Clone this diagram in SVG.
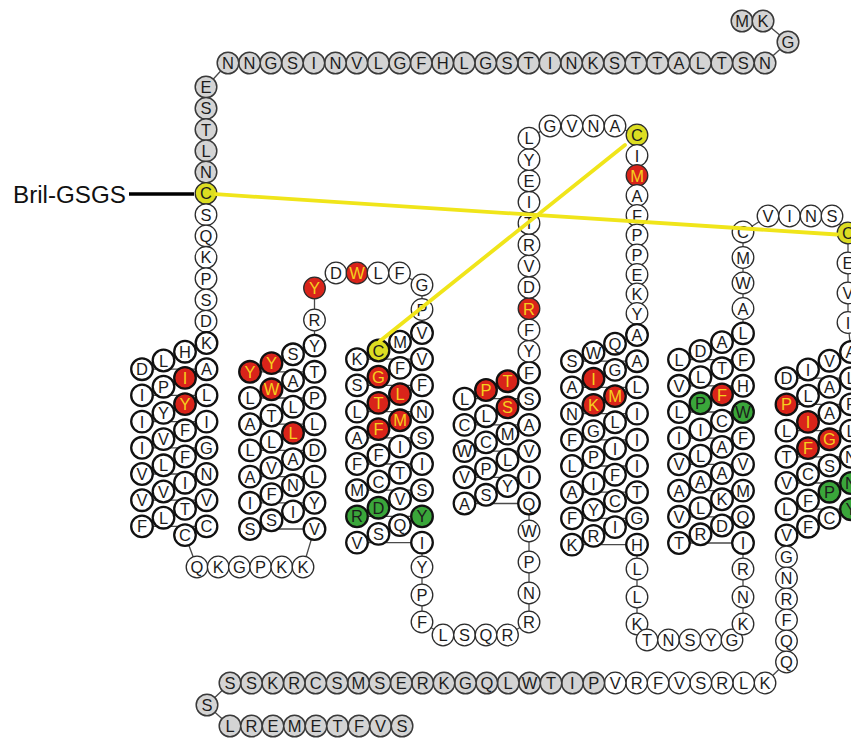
<svg xmlns="http://www.w3.org/2000/svg" width="851" height="740" viewBox="0 0 851 740">
<style>
.n circle{fill:#fff;stroke:#2b2b2b;stroke-width:1.3}
.n text{font-family:"Liberation Sans",Arial,Helvetica,sans-serif;font-size:16.5px;text-anchor:middle;fill:#1c1c1c}
.g circle{fill:#d4d4d4;stroke:#3a3a3a;stroke-width:1.5}
.h circle{stroke:#111;stroke-width:2.3}
.r circle{fill:#d9241a}
.r text{fill:#f5cf1e}
.e circle{fill:#3aa63a}
.y circle{fill:#dcdd22}
.bb{fill:none;stroke:#4a4a4a;stroke-width:1.3}
.ss{stroke:#f0e51a;stroke-width:3.8;stroke-linecap:round}
.lbl{font-family:"Liberation Sans",Arial,Helvetica,sans-serif;font-size:24.2px;fill:#111}
</style>
<rect width="851" height="740" fill="#fff"/>
<!-- backbone trace through all residues, N to C terminus -->
<g id="connectors">
<polyline class="bb" points="742,21 763,21 788,42 765,63 743.3,63 721.8,63 700.3,63 678.9,63 657.4,63 635.9,63 614.5,63 593,63 571.5,63 550,63 528.6,63 507.1,63 485.6,63 464.2,63 442.7,63 421.2,63 399.8,63 378.3,63 356.8,63 335.4,63 313.9,63 292.4,63 270.9,63 249.5,63 228,63 206,87 206,108.3 206,129.6 206,150.9 206,172.1 206,193.4 206,214.7 206,236 206,257.3 206,278.6 206,299.9 206,321.2 206.5,343 185,351.7 163.5,360.5 142,369.2 206.5,369.2 185,377.9 163.5,386.7 142,395.4 206.5,395.4 185,404.1 163.5,412.9 142,421.6 206.5,421.6 185,430.3 163.5,439.1 142,447.8 206.5,447.8 185,456.5 163.5,465.3 142,474 206.5,474 185,482.7 163.5,491.5 142,500.2 206.5,500.2 185,508.9 163.5,517.7 142,526.4 206.5,526.4 185,535.1 197,567 218.2,567 239.4,567 260.6,567 281.8,567 303,567 314.5,529 250,529 271.5,520.3 293,511.5 314.5,502.8 250,502.8 271.5,494.1 293,485.3 314.5,476.6 250,476.6 271.5,467.9 293,459.1 314.5,450.4 250,450.4 271.5,441.7 293,432.9 314.5,424.2 250,424.2 271.5,415.5 293,406.7 314.5,398 250,398 271.5,389.3 293,380.5 314.5,371.8 250,371.8 271.5,363.1 293,354.3 314.5,345.6 314.5,320 314.5,288 336,273 357,273 378,273 399.5,273 422,285 422,309.5 422,333 400,341.7 378.5,350.5 357,359.2 422,359.2 400,367.9 378.5,376.7 357,385.4 422,385.4 400,394.1 378.5,402.9 357,411.6 422,411.6 400,420.3 378.5,429.1 357,437.8 422,437.8 400,446.5 378.5,455.3 357,464 422,464 400,472.7 378.5,481.5 357,490.2 422,490.2 400,498.9 378.5,507.7 357,516.4 422,516.4 400,525.1 378.5,533.9 357,542.6 422,542.6 422,567 422,595 422,622 443,635 464.5,635 486,635 507.5,635 529,622 529,593 529,562 529,531 529,503.5 464.5,503.5 486,494.8 507.5,486 529,477.3 464.5,477.3 486,468.6 507.5,459.8 529,451.1 464.5,451.1 486,442.4 507.5,433.6 529,424.9 464.5,424.9 486,416.2 507.5,407.4 529,398.7 464.5,398.7 486,390 507.5,381.2 529,372.5 529,351.2 529,329.9 529,308.6 529,287.3 529,266 529,244.7 529,223.4 529,202.1 529,180.8 529,159.5 529,138.2 550,126 572,126 593.5,126 615,126 637,135 637,155.5 637,175.5 637,195.5 637,215.5 637,235 637,255 637,274.5 637,294 637,313.5 637,335 615,343.7 593.5,352.5 572,361.2 637,361.2 615,369.9 593.5,378.7 572,387.4 637,387.4 615,396.1 593.5,404.9 572,413.6 637,413.6 615,422.3 593.5,431.1 572,439.8 637,439.8 615,448.5 593.5,457.3 572,466 637,466 615,474.7 593.5,483.5 572,492.2 637,492.2 615,500.9 593.5,509.7 572,518.4 637,518.4 615,527.1 593.5,535.9 572,544.6 637,544.6 637,569 637,597 637,624 647,640 668.5,640 690,640 711,640 732,640 743,624 743,597 743,569 743,543 679,543 700.5,534.3 722,525.5 743,516.8 679,516.8 700.5,508.1 722,499.3 743,490.6 679,490.6 700.5,481.9 722,473.1 743,464.4 679,464.4 700.5,455.7 722,446.9 743,438.2 679,438.2 700.5,429.5 722,420.7 743,412 679,412 700.5,403.3 722,394.5 743,385.8 679,385.8 700.5,377.1 722,368.3 743,359.6 679,359.6 700.5,350.9 722,342.1 743,333.4 743,308.5 743,283 743,257.5 743,232 768,216 789.5,216 811,216 832,216 848,233 848,263 848,293 848,322.5 851,352 829.5,360.7 808,369.5 786.5,378.2 851,378.2 829.5,386.9 808,395.7 786.5,404.4 851,404.4 829.5,413.1 808,421.9 786.5,430.6 851,430.6 829.5,439.3 808,448.1 786.5,456.8 851,456.8 829.5,465.5 808,474.3 786.5,483 851,483 829.5,491.7 808,500.5 786.5,509.2 851,509.2 829.5,517.9 808,526.7 786.5,535.4 786.5,557 786.5,578 786.5,599 786.5,620 786.5,641 786.5,662 765,683 743.6,683 722.2,683 700.8,683 679.4,683 658,683 636.6,683 615.2,683 593.8,683 572.4,683 551,683 529.6,683 508.2,683 486.8,683 465.4,683 444,683 422.6,683 401.2,683 379.8,683 358.4,683 337,683 315.6,683 294.2,683 272.8,683 251.4,683 230,683 207,705 230,726 251.5,726 273,726 294.5,726 316,726 337.5,726 359,726 380.5,726 402,726"/>
<line x1="129" y1="194" x2="194" y2="194" stroke="#000" stroke-width="3.6"/>
</g>
<g id="residues">
<g id="r1" class="n g" transform="translate(742 21)"><circle r="10.8"/><text y="6">M</text></g>
<g id="r2" class="n g" transform="translate(763 21)"><circle r="10.8"/><text y="6">K</text></g>
<g id="r3" class="n g" transform="translate(788 42)"><circle r="10.8"/><text y="6">G</text></g>
<g id="r4" class="n g" transform="translate(765 63)"><circle r="10.8"/><text y="6">N</text></g>
<g id="r5" class="n g" transform="translate(743.3 63)"><circle r="10.8"/><text y="6">S</text></g>
<g id="r6" class="n g" transform="translate(721.8 63)"><circle r="10.8"/><text y="6">T</text></g>
<g id="r7" class="n g" transform="translate(700.3 63)"><circle r="10.8"/><text y="6">L</text></g>
<g id="r8" class="n g" transform="translate(678.9 63)"><circle r="10.8"/><text y="6">A</text></g>
<g id="r9" class="n g" transform="translate(657.4 63)"><circle r="10.8"/><text y="6">T</text></g>
<g id="r10" class="n g" transform="translate(635.9 63)"><circle r="10.8"/><text y="6">T</text></g>
<g id="r11" class="n g" transform="translate(614.5 63)"><circle r="10.8"/><text y="6">S</text></g>
<g id="r12" class="n g" transform="translate(593 63)"><circle r="10.8"/><text y="6">K</text></g>
<g id="r13" class="n g" transform="translate(571.5 63)"><circle r="10.8"/><text y="6">N</text></g>
<g id="r14" class="n g" transform="translate(550 63)"><circle r="10.8"/><text y="6">I</text></g>
<g id="r15" class="n g" transform="translate(528.6 63)"><circle r="10.8"/><text y="6">T</text></g>
<g id="r16" class="n g" transform="translate(507.1 63)"><circle r="10.8"/><text y="6">S</text></g>
<g id="r17" class="n g" transform="translate(485.6 63)"><circle r="10.8"/><text y="6">G</text></g>
<g id="r18" class="n g" transform="translate(464.2 63)"><circle r="10.8"/><text y="6">L</text></g>
<g id="r19" class="n g" transform="translate(442.7 63)"><circle r="10.8"/><text y="6">H</text></g>
<g id="r20" class="n g" transform="translate(421.2 63)"><circle r="10.8"/><text y="6">F</text></g>
<g id="r21" class="n g" transform="translate(399.8 63)"><circle r="10.8"/><text y="6">G</text></g>
<g id="r22" class="n g" transform="translate(378.3 63)"><circle r="10.8"/><text y="6">L</text></g>
<g id="r23" class="n g" transform="translate(356.8 63)"><circle r="10.8"/><text y="6">V</text></g>
<g id="r24" class="n g" transform="translate(335.4 63)"><circle r="10.8"/><text y="6">N</text></g>
<g id="r25" class="n g" transform="translate(313.9 63)"><circle r="10.8"/><text y="6">I</text></g>
<g id="r26" class="n g" transform="translate(292.4 63)"><circle r="10.8"/><text y="6">S</text></g>
<g id="r27" class="n g" transform="translate(270.9 63)"><circle r="10.8"/><text y="6">G</text></g>
<g id="r28" class="n g" transform="translate(249.5 63)"><circle r="10.8"/><text y="6">N</text></g>
<g id="r29" class="n g" transform="translate(228 63)"><circle r="10.8"/><text y="6">N</text></g>
<g id="r30" class="n g" transform="translate(206 87)"><circle r="10.8"/><text y="6">E</text></g>
<g id="r31" class="n g" transform="translate(206 108.3)"><circle r="10.8"/><text y="6">S</text></g>
<g id="r32" class="n g" transform="translate(206 129.6)"><circle r="10.8"/><text y="6">T</text></g>
<g id="r33" class="n g" transform="translate(206 150.9)"><circle r="10.8"/><text y="6">L</text></g>
<g id="r34" class="n g" transform="translate(206 172.1)"><circle r="10.8"/><text y="6">N</text></g>
<g id="r35" class="n y" transform="translate(206 193.4)"><circle r="10.8"/><text y="6">C</text></g>
<g id="r36" class="n" transform="translate(206 214.7)"><circle r="10.8"/><text y="6">S</text></g>
<g id="r37" class="n" transform="translate(206 236)"><circle r="10.8"/><text y="6">Q</text></g>
<g id="r38" class="n" transform="translate(206 257.3)"><circle r="10.8"/><text y="6">K</text></g>
<g id="r39" class="n" transform="translate(206 278.6)"><circle r="10.8"/><text y="6">P</text></g>
<g id="r40" class="n" transform="translate(206 299.9)"><circle r="10.8"/><text y="6">S</text></g>
<g id="r41" class="n" transform="translate(206 321.2)"><circle r="10.8"/><text y="6">D</text></g>
<g id="r42" class="n h" transform="translate(206.5 343)"><circle r="10.8"/><text y="6">K</text></g>
<g id="r43" class="n h" transform="translate(185 351.7)"><circle r="10.8"/><text y="6">H</text></g>
<g id="r44" class="n h" transform="translate(163.5 360.5)"><circle r="10.8"/><text y="6">L</text></g>
<g id="r45" class="n h" transform="translate(142 369.2)"><circle r="10.8"/><text y="6">D</text></g>
<g id="r46" class="n h" transform="translate(206.5 369.2)"><circle r="10.8"/><text y="6">A</text></g>
<g id="r47" class="n h r" transform="translate(185 377.9)"><circle r="10.8"/><text y="6">I</text></g>
<g id="r48" class="n h" transform="translate(163.5 386.7)"><circle r="10.8"/><text y="6">P</text></g>
<g id="r49" class="n h" transform="translate(142 395.4)"><circle r="10.8"/><text y="6">I</text></g>
<g id="r50" class="n h" transform="translate(206.5 395.4)"><circle r="10.8"/><text y="6">L</text></g>
<g id="r51" class="n h r" transform="translate(185 404.1)"><circle r="10.8"/><text y="6">Y</text></g>
<g id="r52" class="n h" transform="translate(163.5 412.9)"><circle r="10.8"/><text y="6">Y</text></g>
<g id="r53" class="n h" transform="translate(142 421.6)"><circle r="10.8"/><text y="6">I</text></g>
<g id="r54" class="n h" transform="translate(206.5 421.6)"><circle r="10.8"/><text y="6">I</text></g>
<g id="r55" class="n h" transform="translate(185 430.3)"><circle r="10.8"/><text y="6">F</text></g>
<g id="r56" class="n h" transform="translate(163.5 439.1)"><circle r="10.8"/><text y="6">V</text></g>
<g id="r57" class="n h" transform="translate(142 447.8)"><circle r="10.8"/><text y="6">I</text></g>
<g id="r58" class="n h" transform="translate(206.5 447.8)"><circle r="10.8"/><text y="6">G</text></g>
<g id="r59" class="n h" transform="translate(185 456.5)"><circle r="10.8"/><text y="6">F</text></g>
<g id="r60" class="n h" transform="translate(163.5 465.3)"><circle r="10.8"/><text y="6">L</text></g>
<g id="r61" class="n h" transform="translate(142 474)"><circle r="10.8"/><text y="6">V</text></g>
<g id="r62" class="n h" transform="translate(206.5 474)"><circle r="10.8"/><text y="6">N</text></g>
<g id="r63" class="n h" transform="translate(185 482.7)"><circle r="10.8"/><text y="6">I</text></g>
<g id="r64" class="n h" transform="translate(163.5 491.5)"><circle r="10.8"/><text y="6">V</text></g>
<g id="r65" class="n h" transform="translate(142 500.2)"><circle r="10.8"/><text y="6">V</text></g>
<g id="r66" class="n h" transform="translate(206.5 500.2)"><circle r="10.8"/><text y="6">V</text></g>
<g id="r67" class="n h" transform="translate(185 508.9)"><circle r="10.8"/><text y="6">T</text></g>
<g id="r68" class="n h" transform="translate(163.5 517.7)"><circle r="10.8"/><text y="6">L</text></g>
<g id="r69" class="n h" transform="translate(142 526.4)"><circle r="10.8"/><text y="6">F</text></g>
<g id="r70" class="n h" transform="translate(206.5 526.4)"><circle r="10.8"/><text y="6">C</text></g>
<g id="r71" class="n h" transform="translate(185 535.1)"><circle r="10.8"/><text y="6">C</text></g>
<g id="r72" class="n" transform="translate(197 567)"><circle r="10.8"/><text y="6">Q</text></g>
<g id="r73" class="n" transform="translate(218.2 567)"><circle r="10.8"/><text y="6">K</text></g>
<g id="r74" class="n" transform="translate(239.4 567)"><circle r="10.8"/><text y="6">G</text></g>
<g id="r75" class="n" transform="translate(260.6 567)"><circle r="10.8"/><text y="6">P</text></g>
<g id="r76" class="n" transform="translate(281.8 567)"><circle r="10.8"/><text y="6">K</text></g>
<g id="r77" class="n" transform="translate(303 567)"><circle r="10.8"/><text y="6">K</text></g>
<g id="r78" class="n h" transform="translate(314.5 529)"><circle r="10.8"/><text y="6">V</text></g>
<g id="r79" class="n h" transform="translate(250 529)"><circle r="10.8"/><text y="6">S</text></g>
<g id="r80" class="n h" transform="translate(271.5 520.3)"><circle r="10.8"/><text y="6">S</text></g>
<g id="r81" class="n h" transform="translate(293 511.5)"><circle r="10.8"/><text y="6">I</text></g>
<g id="r82" class="n h" transform="translate(314.5 502.8)"><circle r="10.8"/><text y="6">Y</text></g>
<g id="r83" class="n h" transform="translate(250 502.8)"><circle r="10.8"/><text y="6">I</text></g>
<g id="r84" class="n h" transform="translate(271.5 494.1)"><circle r="10.8"/><text y="6">F</text></g>
<g id="r85" class="n h" transform="translate(293 485.3)"><circle r="10.8"/><text y="6">N</text></g>
<g id="r86" class="n h" transform="translate(314.5 476.6)"><circle r="10.8"/><text y="6">L</text></g>
<g id="r87" class="n h" transform="translate(250 476.6)"><circle r="10.8"/><text y="6">A</text></g>
<g id="r88" class="n h" transform="translate(271.5 467.9)"><circle r="10.8"/><text y="6">V</text></g>
<g id="r89" class="n h" transform="translate(293 459.1)"><circle r="10.8"/><text y="6">A</text></g>
<g id="r90" class="n h" transform="translate(314.5 450.4)"><circle r="10.8"/><text y="6">D</text></g>
<g id="r91" class="n h" transform="translate(250 450.4)"><circle r="10.8"/><text y="6">L</text></g>
<g id="r92" class="n h" transform="translate(271.5 441.7)"><circle r="10.8"/><text y="6">L</text></g>
<g id="r93" class="n h r" transform="translate(293 432.9)"><circle r="10.8"/><text y="6">L</text></g>
<g id="r94" class="n h" transform="translate(314.5 424.2)"><circle r="10.8"/><text y="6">L</text></g>
<g id="r95" class="n h" transform="translate(250 424.2)"><circle r="10.8"/><text y="6">A</text></g>
<g id="r96" class="n h" transform="translate(271.5 415.5)"><circle r="10.8"/><text y="6">T</text></g>
<g id="r97" class="n h" transform="translate(293 406.7)"><circle r="10.8"/><text y="6">L</text></g>
<g id="r98" class="n h" transform="translate(314.5 398)"><circle r="10.8"/><text y="6">P</text></g>
<g id="r99" class="n h" transform="translate(250 398)"><circle r="10.8"/><text y="6">L</text></g>
<g id="r100" class="n h r" transform="translate(271.5 389.3)"><circle r="10.8"/><text y="6">W</text></g>
<g id="r101" class="n h" transform="translate(293 380.5)"><circle r="10.8"/><text y="6">A</text></g>
<g id="r102" class="n h" transform="translate(314.5 371.8)"><circle r="10.8"/><text y="6">T</text></g>
<g id="r103" class="n h r" transform="translate(250 371.8)"><circle r="10.8"/><text y="6">Y</text></g>
<g id="r104" class="n h r" transform="translate(271.5 363.1)"><circle r="10.8"/><text y="6">Y</text></g>
<g id="r105" class="n h" transform="translate(293 354.3)"><circle r="10.8"/><text y="6">S</text></g>
<g id="r106" class="n h" transform="translate(314.5 345.6)"><circle r="10.8"/><text y="6">Y</text></g>
<g id="r107" class="n" transform="translate(314.5 320)"><circle r="10.8"/><text y="6">R</text></g>
<g id="r108" class="n r" transform="translate(314.5 288)"><circle r="10.8"/><text y="6">Y</text></g>
<g id="r109" class="n" transform="translate(336 273)"><circle r="10.8"/><text y="6">D</text></g>
<g id="r110" class="n r" transform="translate(357 273)"><circle r="10.8"/><text y="6">W</text></g>
<g id="r111" class="n" transform="translate(378 273)"><circle r="10.8"/><text y="6">L</text></g>
<g id="r112" class="n" transform="translate(399.5 273)"><circle r="10.8"/><text y="6">F</text></g>
<g id="r113" class="n" transform="translate(422 285)"><circle r="10.8"/><text y="6">G</text></g>
<g id="r114" class="n" transform="translate(422 309.5)"><circle r="10.8"/><text y="6">P</text></g>
<g id="r115" class="n h" transform="translate(422 333)"><circle r="10.8"/><text y="6">V</text></g>
<g id="r116" class="n h" transform="translate(400 341.7)"><circle r="10.8"/><text y="6">M</text></g>
<g id="r117" class="n h y" transform="translate(378.5 350.5)"><circle r="10.8"/><text y="6">C</text></g>
<g id="r118" class="n h" transform="translate(357 359.2)"><circle r="10.8"/><text y="6">K</text></g>
<g id="r119" class="n h" transform="translate(422 359.2)"><circle r="10.8"/><text y="6">V</text></g>
<g id="r120" class="n h" transform="translate(400 367.9)"><circle r="10.8"/><text y="6">F</text></g>
<g id="r121" class="n h r" transform="translate(378.5 376.7)"><circle r="10.8"/><text y="6">G</text></g>
<g id="r122" class="n h" transform="translate(357 385.4)"><circle r="10.8"/><text y="6">S</text></g>
<g id="r123" class="n h" transform="translate(422 385.4)"><circle r="10.8"/><text y="6">F</text></g>
<g id="r124" class="n h r" transform="translate(400 394.1)"><circle r="10.8"/><text y="6">L</text></g>
<g id="r125" class="n h r" transform="translate(378.5 402.9)"><circle r="10.8"/><text y="6">T</text></g>
<g id="r126" class="n h" transform="translate(357 411.6)"><circle r="10.8"/><text y="6">L</text></g>
<g id="r127" class="n h" transform="translate(422 411.6)"><circle r="10.8"/><text y="6">N</text></g>
<g id="r128" class="n h r" transform="translate(400 420.3)"><circle r="10.8"/><text y="6">M</text></g>
<g id="r129" class="n h r" transform="translate(378.5 429.1)"><circle r="10.8"/><text y="6">F</text></g>
<g id="r130" class="n h" transform="translate(357 437.8)"><circle r="10.8"/><text y="6">A</text></g>
<g id="r131" class="n h" transform="translate(422 437.8)"><circle r="10.8"/><text y="6">S</text></g>
<g id="r132" class="n h" transform="translate(400 446.5)"><circle r="10.8"/><text y="6">I</text></g>
<g id="r133" class="n h" transform="translate(378.5 455.3)"><circle r="10.8"/><text y="6">F</text></g>
<g id="r134" class="n h" transform="translate(357 464)"><circle r="10.8"/><text y="6">F</text></g>
<g id="r135" class="n h" transform="translate(422 464)"><circle r="10.8"/><text y="6">I</text></g>
<g id="r136" class="n h" transform="translate(400 472.7)"><circle r="10.8"/><text y="6">T</text></g>
<g id="r137" class="n h" transform="translate(378.5 481.5)"><circle r="10.8"/><text y="6">C</text></g>
<g id="r138" class="n h" transform="translate(357 490.2)"><circle r="10.8"/><text y="6">M</text></g>
<g id="r139" class="n h" transform="translate(422 490.2)"><circle r="10.8"/><text y="6">S</text></g>
<g id="r140" class="n h" transform="translate(400 498.9)"><circle r="10.8"/><text y="6">V</text></g>
<g id="r141" class="n h e" transform="translate(378.5 507.7)"><circle r="10.8"/><text y="6">D</text></g>
<g id="r142" class="n h e" transform="translate(357 516.4)"><circle r="10.8"/><text y="6">R</text></g>
<g id="r143" class="n h e" transform="translate(422 516.4)"><circle r="10.8"/><text y="6">Y</text></g>
<g id="r144" class="n h" transform="translate(400 525.1)"><circle r="10.8"/><text y="6">Q</text></g>
<g id="r145" class="n h" transform="translate(378.5 533.9)"><circle r="10.8"/><text y="6">S</text></g>
<g id="r146" class="n h" transform="translate(357 542.6)"><circle r="10.8"/><text y="6">V</text></g>
<g id="r147" class="n h" transform="translate(422 542.6)"><circle r="10.8"/><text y="6">I</text></g>
<g id="r148" class="n" transform="translate(422 567)"><circle r="10.8"/><text y="6">Y</text></g>
<g id="r149" class="n" transform="translate(422 595)"><circle r="10.8"/><text y="6">P</text></g>
<g id="r150" class="n" transform="translate(422 622)"><circle r="10.8"/><text y="6">F</text></g>
<g id="r151" class="n" transform="translate(443 635)"><circle r="10.8"/><text y="6">L</text></g>
<g id="r152" class="n" transform="translate(464.5 635)"><circle r="10.8"/><text y="6">S</text></g>
<g id="r153" class="n" transform="translate(486 635)"><circle r="10.8"/><text y="6">Q</text></g>
<g id="r154" class="n" transform="translate(507.5 635)"><circle r="10.8"/><text y="6">R</text></g>
<g id="r155" class="n" transform="translate(529 622)"><circle r="10.8"/><text y="6">R</text></g>
<g id="r156" class="n" transform="translate(529 593)"><circle r="10.8"/><text y="6">N</text></g>
<g id="r157" class="n" transform="translate(529 562)"><circle r="10.8"/><text y="6">P</text></g>
<g id="r158" class="n" transform="translate(529 531)"><circle r="10.8"/><text y="6">W</text></g>
<g id="r159" class="n h" transform="translate(529 503.5)"><circle r="10.8"/><text y="6">Q</text></g>
<g id="r160" class="n h" transform="translate(464.5 503.5)"><circle r="10.8"/><text y="6">A</text></g>
<g id="r161" class="n h" transform="translate(486 494.8)"><circle r="10.8"/><text y="6">S</text></g>
<g id="r162" class="n h" transform="translate(507.5 486)"><circle r="10.8"/><text y="6">Y</text></g>
<g id="r163" class="n h" transform="translate(529 477.3)"><circle r="10.8"/><text y="6">I</text></g>
<g id="r164" class="n h" transform="translate(464.5 477.3)"><circle r="10.8"/><text y="6">V</text></g>
<g id="r165" class="n h" transform="translate(486 468.6)"><circle r="10.8"/><text y="6">P</text></g>
<g id="r166" class="n h" transform="translate(507.5 459.8)"><circle r="10.8"/><text y="6">L</text></g>
<g id="r167" class="n h" transform="translate(529 451.1)"><circle r="10.8"/><text y="6">V</text></g>
<g id="r168" class="n h" transform="translate(464.5 451.1)"><circle r="10.8"/><text y="6">W</text></g>
<g id="r169" class="n h" transform="translate(486 442.4)"><circle r="10.8"/><text y="6">C</text></g>
<g id="r170" class="n h" transform="translate(507.5 433.6)"><circle r="10.8"/><text y="6">M</text></g>
<g id="r171" class="n h" transform="translate(529 424.9)"><circle r="10.8"/><text y="6">A</text></g>
<g id="r172" class="n h" transform="translate(464.5 424.9)"><circle r="10.8"/><text y="6">C</text></g>
<g id="r173" class="n h" transform="translate(486 416.2)"><circle r="10.8"/><text y="6">L</text></g>
<g id="r174" class="n h r" transform="translate(507.5 407.4)"><circle r="10.8"/><text y="6">S</text></g>
<g id="r175" class="n h" transform="translate(529 398.7)"><circle r="10.8"/><text y="6">S</text></g>
<g id="r176" class="n h" transform="translate(464.5 398.7)"><circle r="10.8"/><text y="6">L</text></g>
<g id="r177" class="n h r" transform="translate(486 390)"><circle r="10.8"/><text y="6">P</text></g>
<g id="r178" class="n h r" transform="translate(507.5 381.2)"><circle r="10.8"/><text y="6">T</text></g>
<g id="r179" class="n h" transform="translate(529 372.5)"><circle r="10.8"/><text y="6">F</text></g>
<g id="r180" class="n" transform="translate(529 351.2)"><circle r="10.8"/><text y="6">Y</text></g>
<g id="r181" class="n" transform="translate(529 329.9)"><circle r="10.8"/><text y="6">F</text></g>
<g id="r182" class="n r" transform="translate(529 308.6)"><circle r="10.8"/><text y="6">R</text></g>
<g id="r183" class="n" transform="translate(529 287.3)"><circle r="10.8"/><text y="6">D</text></g>
<g id="r184" class="n" transform="translate(529 266)"><circle r="10.8"/><text y="6">V</text></g>
<g id="r185" class="n" transform="translate(529 244.7)"><circle r="10.8"/><text y="6">R</text></g>
<g id="r186" class="n" transform="translate(529 223.4)"><circle r="10.8"/><text y="6">T</text></g>
<g id="r187" class="n" transform="translate(529 202.1)"><circle r="10.8"/><text y="6">I</text></g>
<g id="r188" class="n" transform="translate(529 180.8)"><circle r="10.8"/><text y="6">E</text></g>
<g id="r189" class="n" transform="translate(529 159.5)"><circle r="10.8"/><text y="6">Y</text></g>
<g id="r190" class="n" transform="translate(529 138.2)"><circle r="10.8"/><text y="6">L</text></g>
<g id="r191" class="n" transform="translate(550 126)"><circle r="10.8"/><text y="6">G</text></g>
<g id="r192" class="n" transform="translate(572 126)"><circle r="10.8"/><text y="6">V</text></g>
<g id="r193" class="n" transform="translate(593.5 126)"><circle r="10.8"/><text y="6">N</text></g>
<g id="r194" class="n" transform="translate(615 126)"><circle r="10.8"/><text y="6">A</text></g>
<g id="r195" class="n y" transform="translate(637 135)"><circle r="10.8"/><text y="6">C</text></g>
<g id="r196" class="n" transform="translate(637 155.5)"><circle r="10.8"/><text y="6">I</text></g>
<g id="r197" class="n r" transform="translate(637 175.5)"><circle r="10.8"/><text y="6">M</text></g>
<g id="r198" class="n" transform="translate(637 195.5)"><circle r="10.8"/><text y="6">A</text></g>
<g id="r199" class="n" transform="translate(637 215.5)"><circle r="10.8"/><text y="6">F</text></g>
<g id="r200" class="n" transform="translate(637 235)"><circle r="10.8"/><text y="6">P</text></g>
<g id="r201" class="n" transform="translate(637 255)"><circle r="10.8"/><text y="6">P</text></g>
<g id="r202" class="n" transform="translate(637 274.5)"><circle r="10.8"/><text y="6">E</text></g>
<g id="r203" class="n" transform="translate(637 294)"><circle r="10.8"/><text y="6">K</text></g>
<g id="r204" class="n" transform="translate(637 313.5)"><circle r="10.8"/><text y="6">Y</text></g>
<g id="r205" class="n h" transform="translate(637 335)"><circle r="10.8"/><text y="6">A</text></g>
<g id="r206" class="n h" transform="translate(615 343.7)"><circle r="10.8"/><text y="6">Q</text></g>
<g id="r207" class="n h" transform="translate(593.5 352.5)"><circle r="10.8"/><text y="6">W</text></g>
<g id="r208" class="n h" transform="translate(572 361.2)"><circle r="10.8"/><text y="6">S</text></g>
<g id="r209" class="n h" transform="translate(637 361.2)"><circle r="10.8"/><text y="6">A</text></g>
<g id="r210" class="n h" transform="translate(615 369.9)"><circle r="10.8"/><text y="6">G</text></g>
<g id="r211" class="n h r" transform="translate(593.5 378.7)"><circle r="10.8"/><text y="6">I</text></g>
<g id="r212" class="n h" transform="translate(572 387.4)"><circle r="10.8"/><text y="6">A</text></g>
<g id="r213" class="n h" transform="translate(637 387.4)"><circle r="10.8"/><text y="6">L</text></g>
<g id="r214" class="n h r" transform="translate(615 396.1)"><circle r="10.8"/><text y="6">M</text></g>
<g id="r215" class="n h r" transform="translate(593.5 404.9)"><circle r="10.8"/><text y="6">K</text></g>
<g id="r216" class="n h" transform="translate(572 413.6)"><circle r="10.8"/><text y="6">N</text></g>
<g id="r217" class="n h" transform="translate(637 413.6)"><circle r="10.8"/><text y="6">I</text></g>
<g id="r218" class="n h" transform="translate(615 422.3)"><circle r="10.8"/><text y="6">L</text></g>
<g id="r219" class="n h" transform="translate(593.5 431.1)"><circle r="10.8"/><text y="6">G</text></g>
<g id="r220" class="n h" transform="translate(572 439.8)"><circle r="10.8"/><text y="6">F</text></g>
<g id="r221" class="n h" transform="translate(637 439.8)"><circle r="10.8"/><text y="6">I</text></g>
<g id="r222" class="n h" transform="translate(615 448.5)"><circle r="10.8"/><text y="6">I</text></g>
<g id="r223" class="n h" transform="translate(593.5 457.3)"><circle r="10.8"/><text y="6">P</text></g>
<g id="r224" class="n h" transform="translate(572 466)"><circle r="10.8"/><text y="6">L</text></g>
<g id="r225" class="n h" transform="translate(637 466)"><circle r="10.8"/><text y="6">I</text></g>
<g id="r226" class="n h" transform="translate(615 474.7)"><circle r="10.8"/><text y="6">F</text></g>
<g id="r227" class="n h" transform="translate(593.5 483.5)"><circle r="10.8"/><text y="6">I</text></g>
<g id="r228" class="n h" transform="translate(572 492.2)"><circle r="10.8"/><text y="6">A</text></g>
<g id="r229" class="n h" transform="translate(637 492.2)"><circle r="10.8"/><text y="6">T</text></g>
<g id="r230" class="n h" transform="translate(615 500.9)"><circle r="10.8"/><text y="6">C</text></g>
<g id="r231" class="n h" transform="translate(593.5 509.7)"><circle r="10.8"/><text y="6">Y</text></g>
<g id="r232" class="n h" transform="translate(572 518.4)"><circle r="10.8"/><text y="6">F</text></g>
<g id="r233" class="n h" transform="translate(637 518.4)"><circle r="10.8"/><text y="6">G</text></g>
<g id="r234" class="n h" transform="translate(615 527.1)"><circle r="10.8"/><text y="6">I</text></g>
<g id="r235" class="n h" transform="translate(593.5 535.9)"><circle r="10.8"/><text y="6">R</text></g>
<g id="r236" class="n h" transform="translate(572 544.6)"><circle r="10.8"/><text y="6">K</text></g>
<g id="r237" class="n h" transform="translate(637 544.6)"><circle r="10.8"/><text y="6">H</text></g>
<g id="r238" class="n" transform="translate(637 569)"><circle r="10.8"/><text y="6">L</text></g>
<g id="r239" class="n" transform="translate(637 597)"><circle r="10.8"/><text y="6">L</text></g>
<g id="r240" class="n" transform="translate(637 624)"><circle r="10.8"/><text y="6">K</text></g>
<g id="r241" class="n" transform="translate(647 640)"><circle r="10.8"/><text y="6">T</text></g>
<g id="r242" class="n" transform="translate(668.5 640)"><circle r="10.8"/><text y="6">N</text></g>
<g id="r243" class="n" transform="translate(690 640)"><circle r="10.8"/><text y="6">S</text></g>
<g id="r244" class="n" transform="translate(711 640)"><circle r="10.8"/><text y="6">Y</text></g>
<g id="r245" class="n" transform="translate(732 640)"><circle r="10.8"/><text y="6">G</text></g>
<g id="r246" class="n" transform="translate(743 624)"><circle r="10.8"/><text y="6">K</text></g>
<g id="r247" class="n" transform="translate(743 597)"><circle r="10.8"/><text y="6">N</text></g>
<g id="r248" class="n" transform="translate(743 569)"><circle r="10.8"/><text y="6">R</text></g>
<g id="r249" class="n h" transform="translate(743 543)"><circle r="10.8"/><text y="6">I</text></g>
<g id="r250" class="n h" transform="translate(679 543)"><circle r="10.8"/><text y="6">T</text></g>
<g id="r251" class="n h" transform="translate(700.5 534.3)"><circle r="10.8"/><text y="6">R</text></g>
<g id="r252" class="n h" transform="translate(722 525.5)"><circle r="10.8"/><text y="6">D</text></g>
<g id="r253" class="n h" transform="translate(743 516.8)"><circle r="10.8"/><text y="6">Q</text></g>
<g id="r254" class="n h" transform="translate(679 516.8)"><circle r="10.8"/><text y="6">V</text></g>
<g id="r255" class="n h" transform="translate(700.5 508.1)"><circle r="10.8"/><text y="6">L</text></g>
<g id="r256" class="n h" transform="translate(722 499.3)"><circle r="10.8"/><text y="6">K</text></g>
<g id="r257" class="n h" transform="translate(743 490.6)"><circle r="10.8"/><text y="6">M</text></g>
<g id="r258" class="n h" transform="translate(679 490.6)"><circle r="10.8"/><text y="6">A</text></g>
<g id="r259" class="n h" transform="translate(700.5 481.9)"><circle r="10.8"/><text y="6">A</text></g>
<g id="r260" class="n h" transform="translate(722 473.1)"><circle r="10.8"/><text y="6">A</text></g>
<g id="r261" class="n h" transform="translate(743 464.4)"><circle r="10.8"/><text y="6">V</text></g>
<g id="r262" class="n h" transform="translate(679 464.4)"><circle r="10.8"/><text y="6">V</text></g>
<g id="r263" class="n h" transform="translate(700.5 455.7)"><circle r="10.8"/><text y="6">L</text></g>
<g id="r264" class="n h" transform="translate(722 446.9)"><circle r="10.8"/><text y="6">A</text></g>
<g id="r265" class="n h" transform="translate(743 438.2)"><circle r="10.8"/><text y="6">F</text></g>
<g id="r266" class="n h" transform="translate(679 438.2)"><circle r="10.8"/><text y="6">I</text></g>
<g id="r267" class="n h" transform="translate(700.5 429.5)"><circle r="10.8"/><text y="6">I</text></g>
<g id="r268" class="n h" transform="translate(722 420.7)"><circle r="10.8"/><text y="6">C</text></g>
<g id="r269" class="n h e" transform="translate(743 412)"><circle r="10.8"/><text y="6">W</text></g>
<g id="r270" class="n h" transform="translate(679 412)"><circle r="10.8"/><text y="6">L</text></g>
<g id="r271" class="n h e" transform="translate(700.5 403.3)"><circle r="10.8"/><text y="6">P</text></g>
<g id="r272" class="n h r" transform="translate(722 394.5)"><circle r="10.8"/><text y="6">F</text></g>
<g id="r273" class="n h" transform="translate(743 385.8)"><circle r="10.8"/><text y="6">H</text></g>
<g id="r274" class="n h" transform="translate(679 385.8)"><circle r="10.8"/><text y="6">V</text></g>
<g id="r275" class="n h" transform="translate(700.5 377.1)"><circle r="10.8"/><text y="6">L</text></g>
<g id="r276" class="n h" transform="translate(722 368.3)"><circle r="10.8"/><text y="6">T</text></g>
<g id="r277" class="n h" transform="translate(743 359.6)"><circle r="10.8"/><text y="6">F</text></g>
<g id="r278" class="n h" transform="translate(679 359.6)"><circle r="10.8"/><text y="6">L</text></g>
<g id="r279" class="n h" transform="translate(700.5 350.9)"><circle r="10.8"/><text y="6">D</text></g>
<g id="r280" class="n h" transform="translate(722 342.1)"><circle r="10.8"/><text y="6">A</text></g>
<g id="r281" class="n h" transform="translate(743 333.4)"><circle r="10.8"/><text y="6">L</text></g>
<g id="r282" class="n" transform="translate(743 308.5)"><circle r="10.8"/><text y="6">A</text></g>
<g id="r283" class="n" transform="translate(743 283)"><circle r="10.8"/><text y="6">W</text></g>
<g id="r284" class="n" transform="translate(743 257.5)"><circle r="10.8"/><text y="6">M</text></g>
<g id="r285" class="n" transform="translate(743 232)"><circle r="10.8"/><text y="6">C</text></g>
<g id="r286" class="n" transform="translate(768 216)"><circle r="10.8"/><text y="6">V</text></g>
<g id="r287" class="n" transform="translate(789.5 216)"><circle r="10.8"/><text y="6">I</text></g>
<g id="r288" class="n" transform="translate(811 216)"><circle r="10.8"/><text y="6">N</text></g>
<g id="r289" class="n" transform="translate(832 216)"><circle r="10.8"/><text y="6">S</text></g>
<g id="r290" class="n y" transform="translate(848 233)"><circle r="10.8"/><text y="6">C</text></g>
<g id="r291" class="n" transform="translate(848 263)"><circle r="10.8"/><text y="6">E</text></g>
<g id="r292" class="n" transform="translate(848 293)"><circle r="10.8"/><text y="6">V</text></g>
<g id="r293" class="n" transform="translate(848 322.5)"><circle r="10.8"/><text y="6">I</text></g>
<g id="r294" class="n h" transform="translate(851 352)"><circle r="10.8"/><text y="6">A</text></g>
<g id="r295" class="n h" transform="translate(829.5 360.7)"><circle r="10.8"/><text y="6">V</text></g>
<g id="r296" class="n h" transform="translate(808 369.5)"><circle r="10.8"/><text y="6">I</text></g>
<g id="r297" class="n h" transform="translate(786.5 378.2)"><circle r="10.8"/><text y="6">D</text></g>
<g id="r298" class="n h" transform="translate(851 378.2)"><circle r="10.8"/><text y="6">L</text></g>
<g id="r299" class="n h" transform="translate(829.5 386.9)"><circle r="10.8"/><text y="6">A</text></g>
<g id="r300" class="n h" transform="translate(808 395.7)"><circle r="10.8"/><text y="6">L</text></g>
<g id="r301" class="n h r" transform="translate(786.5 404.4)"><circle r="10.8"/><text y="6">P</text></g>
<g id="r302" class="n h" transform="translate(851 404.4)"><circle r="10.8"/><text y="6">F</text></g>
<g id="r303" class="n h" transform="translate(829.5 413.1)"><circle r="10.8"/><text y="6">A</text></g>
<g id="r304" class="n h r" transform="translate(808 421.9)"><circle r="10.8"/><text y="6">I</text></g>
<g id="r305" class="n h" transform="translate(786.5 430.6)"><circle r="10.8"/><text y="6">L</text></g>
<g id="r306" class="n h" transform="translate(851 430.6)"><circle r="10.8"/><text y="6">L</text></g>
<g id="r307" class="n h r" transform="translate(829.5 439.3)"><circle r="10.8"/><text y="6">G</text></g>
<g id="r308" class="n h r" transform="translate(808 448.1)"><circle r="10.8"/><text y="6">F</text></g>
<g id="r309" class="n h" transform="translate(786.5 456.8)"><circle r="10.8"/><text y="6">T</text></g>
<g id="r310" class="n h" transform="translate(851 456.8)"><circle r="10.8"/><text y="6">N</text></g>
<g id="r311" class="n h" transform="translate(829.5 465.5)"><circle r="10.8"/><text y="6">S</text></g>
<g id="r312" class="n h" transform="translate(808 474.3)"><circle r="10.8"/><text y="6">C</text></g>
<g id="r313" class="n h" transform="translate(786.5 483)"><circle r="10.8"/><text y="6">V</text></g>
<g id="r314" class="n h e" transform="translate(851 483)"><circle r="10.8"/><text y="6">N</text></g>
<g id="r315" class="n h e" transform="translate(829.5 491.7)"><circle r="10.8"/><text y="6">P</text></g>
<g id="r316" class="n h" transform="translate(808 500.5)"><circle r="10.8"/><text y="6">F</text></g>
<g id="r317" class="n h" transform="translate(786.5 509.2)"><circle r="10.8"/><text y="6">L</text></g>
<g id="r318" class="n h e" transform="translate(851 509.2)"><circle r="10.8"/><text y="6">Y</text></g>
<g id="r319" class="n h" transform="translate(829.5 517.9)"><circle r="10.8"/><text y="6">C</text></g>
<g id="r320" class="n h" transform="translate(808 526.7)"><circle r="10.8"/><text y="6">F</text></g>
<g id="r321" class="n h" transform="translate(786.5 535.4)"><circle r="10.8"/><text y="6">V</text></g>
<g id="r322" class="n" transform="translate(786.5 557)"><circle r="10.8"/><text y="6">G</text></g>
<g id="r323" class="n" transform="translate(786.5 578)"><circle r="10.8"/><text y="6">N</text></g>
<g id="r324" class="n" transform="translate(786.5 599)"><circle r="10.8"/><text y="6">R</text></g>
<g id="r325" class="n" transform="translate(786.5 620)"><circle r="10.8"/><text y="6">F</text></g>
<g id="r326" class="n" transform="translate(786.5 641)"><circle r="10.8"/><text y="6">Q</text></g>
<g id="r327" class="n" transform="translate(786.5 662)"><circle r="10.8"/><text y="6">Q</text></g>
<g id="r328" class="n" transform="translate(765 683)"><circle r="10.8"/><text y="6">K</text></g>
<g id="r329" class="n" transform="translate(743.6 683)"><circle r="10.8"/><text y="6">L</text></g>
<g id="r330" class="n" transform="translate(722.2 683)"><circle r="10.8"/><text y="6">R</text></g>
<g id="r331" class="n" transform="translate(700.8 683)"><circle r="10.8"/><text y="6">S</text></g>
<g id="r332" class="n" transform="translate(679.4 683)"><circle r="10.8"/><text y="6">V</text></g>
<g id="r333" class="n" transform="translate(658 683)"><circle r="10.8"/><text y="6">F</text></g>
<g id="r334" class="n" transform="translate(636.6 683)"><circle r="10.8"/><text y="6">R</text></g>
<g id="r335" class="n" transform="translate(615.2 683)"><circle r="10.8"/><text y="6">V</text></g>
<g id="r336" class="n g" transform="translate(593.8 683)"><circle r="10.8"/><text y="6">P</text></g>
<g id="r337" class="n g" transform="translate(572.4 683)"><circle r="10.8"/><text y="6">I</text></g>
<g id="r338" class="n g" transform="translate(551 683)"><circle r="10.8"/><text y="6">T</text></g>
<g id="r339" class="n g" transform="translate(529.6 683)"><circle r="10.8"/><text y="6">W</text></g>
<g id="r340" class="n g" transform="translate(508.2 683)"><circle r="10.8"/><text y="6">L</text></g>
<g id="r341" class="n g" transform="translate(486.8 683)"><circle r="10.8"/><text y="6">Q</text></g>
<g id="r342" class="n g" transform="translate(465.4 683)"><circle r="10.8"/><text y="6">G</text></g>
<g id="r343" class="n g" transform="translate(444 683)"><circle r="10.8"/><text y="6">K</text></g>
<g id="r344" class="n g" transform="translate(422.6 683)"><circle r="10.8"/><text y="6">R</text></g>
<g id="r345" class="n g" transform="translate(401.2 683)"><circle r="10.8"/><text y="6">E</text></g>
<g id="r346" class="n g" transform="translate(379.8 683)"><circle r="10.8"/><text y="6">S</text></g>
<g id="r347" class="n g" transform="translate(358.4 683)"><circle r="10.8"/><text y="6">M</text></g>
<g id="r348" class="n g" transform="translate(337 683)"><circle r="10.8"/><text y="6">S</text></g>
<g id="r349" class="n g" transform="translate(315.6 683)"><circle r="10.8"/><text y="6">C</text></g>
<g id="r350" class="n g" transform="translate(294.2 683)"><circle r="10.8"/><text y="6">R</text></g>
<g id="r351" class="n g" transform="translate(272.8 683)"><circle r="10.8"/><text y="6">K</text></g>
<g id="r352" class="n g" transform="translate(251.4 683)"><circle r="10.8"/><text y="6">S</text></g>
<g id="r353" class="n g" transform="translate(230 683)"><circle r="10.8"/><text y="6">S</text></g>
<g id="r354" class="n g" transform="translate(207 705)"><circle r="10.8"/><text y="6">S</text></g>
<g id="r355" class="n g" transform="translate(230 726)"><circle r="10.8"/><text y="6">L</text></g>
<g id="r356" class="n g" transform="translate(251.5 726)"><circle r="10.8"/><text y="6">R</text></g>
<g id="r357" class="n g" transform="translate(273 726)"><circle r="10.8"/><text y="6">E</text></g>
<g id="r358" class="n g" transform="translate(294.5 726)"><circle r="10.8"/><text y="6">M</text></g>
<g id="r359" class="n g" transform="translate(316 726)"><circle r="10.8"/><text y="6">E</text></g>
<g id="r360" class="n g" transform="translate(337.5 726)"><circle r="10.8"/><text y="6">T</text></g>
<g id="r361" class="n g" transform="translate(359 726)"><circle r="10.8"/><text y="6">F</text></g>
<g id="r362" class="n g" transform="translate(380.5 726)"><circle r="10.8"/><text y="6">V</text></g>
<g id="r363" class="n g" transform="translate(402 726)"><circle r="10.8"/><text y="6">S</text></g>
</g>
<!-- disulfide bonds -->
<g id="disulfides">
<line class="ss" x1="216" y1="194.2" x2="837" y2="234.5"/>
<line class="ss" x1="625" y1="145" x2="380" y2="341"/>
</g>
<g id="label">
<text class="lbl" x="13" y="202.5">Bril-GSGS</text>
</g>
</svg>
